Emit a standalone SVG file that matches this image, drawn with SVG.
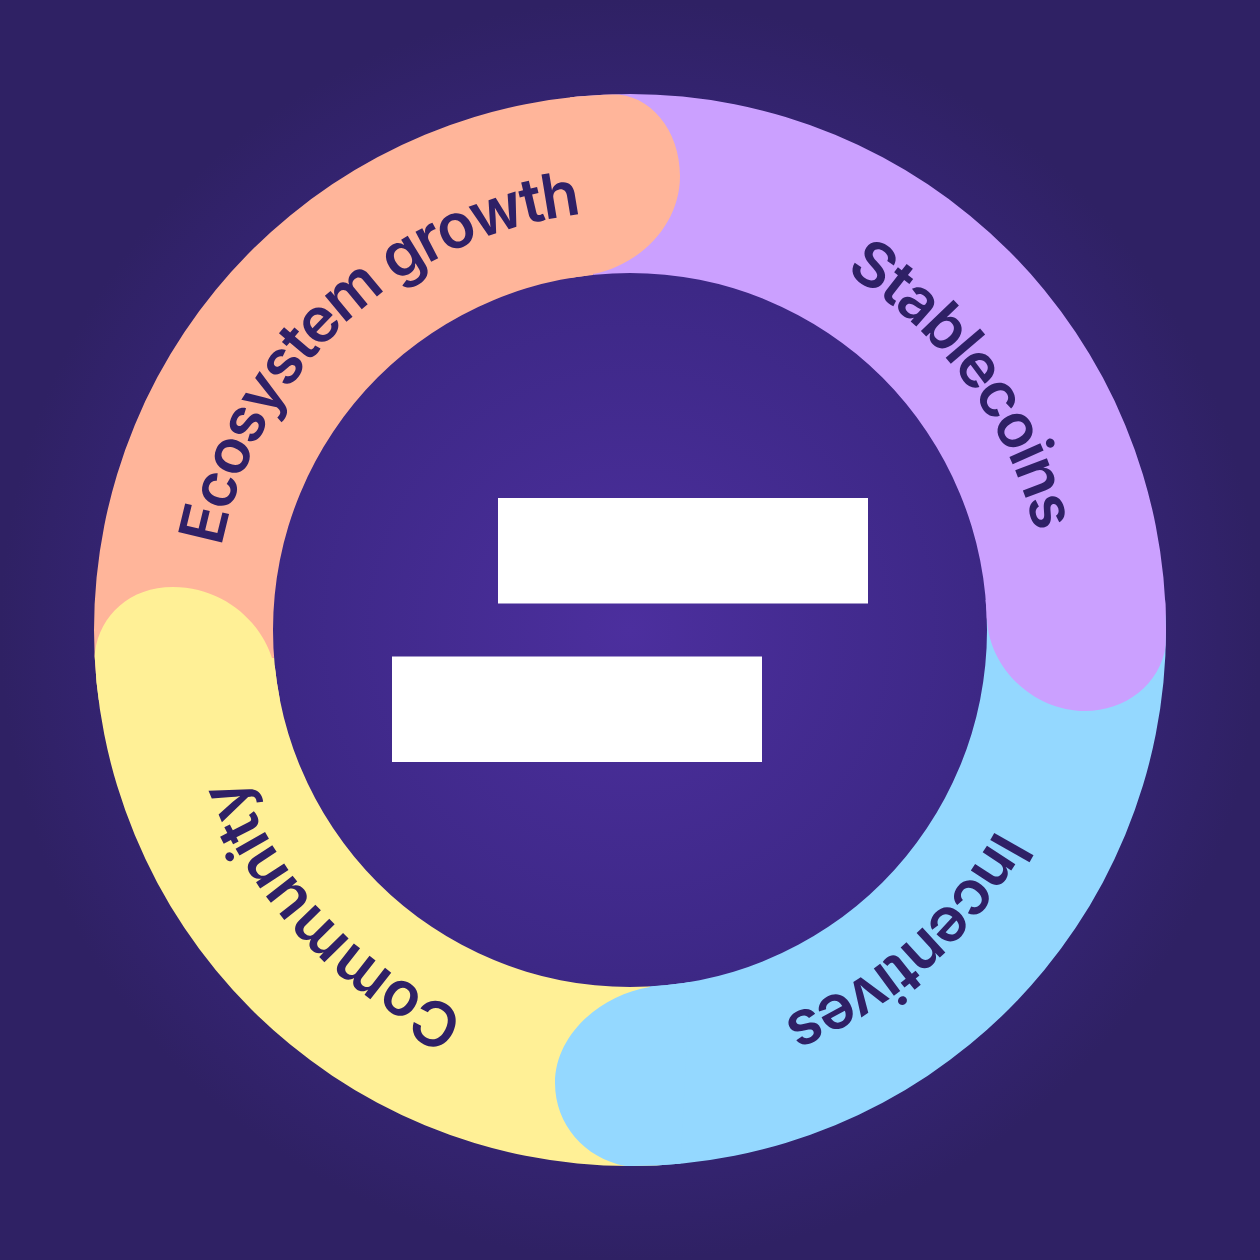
<svg xmlns="http://www.w3.org/2000/svg" width="1260" height="1260" viewBox="0 0 1260 1260">
<style>
.seg{fill:none;stroke-width:182}
.lbl{font-family:"Inter","Liberation Sans",sans-serif;font-size:62px;font-weight:600;letter-spacing:-2.1px;fill:#2f2066}
.wide{letter-spacing:-1.3px}
</style>
<defs>
<radialGradient id="bg" gradientUnits="userSpaceOnUse" cx="630" cy="630" r="630">
<stop offset="0" stop-color="#4c2f9e"/><stop offset="0.55" stop-color="#3d2886"/><stop offset="1" stop-color="#2f2164"/>
</radialGradient>
<clipPath id="ring"><path clip-rule="evenodd" d="M94 630a536 536 0 1 0 1072 0a536 536 0 1 0 -1072 0zM273 630a357 357 0 1 0 714 0a357 357 0 1 0 -714 0z"/></clipPath>
<path id="p1" d="M221.400 546.900A417 417 0 0 1 1040 550"/>
<path id="p2" d="M844.800 272.600A417 417 0 0 1 700 1041"/>
<path id="p3" d="M996.400 829A417 417 0 0 1 213 630"/>
<path id="p4" d="M465.700 1013.300A417 417 0 0 1 630 213"/>
</defs>
<rect width="1260" height="1260" fill="url(#bg)"/>
<g id="ring-shapes" clip-path="url(#ring)">
<g id="ecosystem-band"><path class="seg" stroke="#ffb59a" d="M184.900 664.800A446.500 446.500 0 0 1 584.100 185.900"/></g>
<g id="stablecoins-band"><path class="seg" stroke="#cba0ff" d="M584.100 185.900A446.500 446.500 0 0 1 1076.300 617.500"/></g>
<g id="incentives-band"><path class="seg" stroke="#94d8ff" d="M1076.300 617.500A446.500 446.500 0 0 1 654.900 1075.800"/></g>
<g id="community-band"><path class="seg" stroke="#fff096" d="M654.900 1075.800A446.500 446.500 0 0 1 184.900 664.800"/></g>
<g id="caps">
<path fill="#ffb59a" d="M612 94C650 94 680 130 680 176C680 225 640 265 593 274L570 280L570 85Z"/>
<path fill="#cba0ff" d="M987 620C990 670 1035 711 1085 711C1125 711 1160 685 1166 645L1175 600L980 600Z"/>
<path fill="#94d8ff" d="M650 987C600 995 555 1035 555 1083C555 1125 585 1158 625 1166L680 1175L690 980Z"/>
<path fill="#fff096" d="M95 652C100 615 130 587 173 587C222 587 260 620 272 658L285 700L85 700Z"/>
</g>
</g>
<g id="labels">
<text class="lbl"><textPath href="#p1">Ecosystem growth</textPath></text>
<text class="lbl"><textPath href="#p2">Stablecoins</textPath></text>
<text class="lbl"><textPath href="#p3">Incentives</textPath></text>
<text class="lbl wide"><textPath href="#p4">Community</textPath></text>
</g>
<g id="center"><rect x="498" y="498" width="370" height="105.500" fill="#fff"/><rect x="392" y="656.500" width="370" height="105.500" fill="#fff"/></g>
</svg>
